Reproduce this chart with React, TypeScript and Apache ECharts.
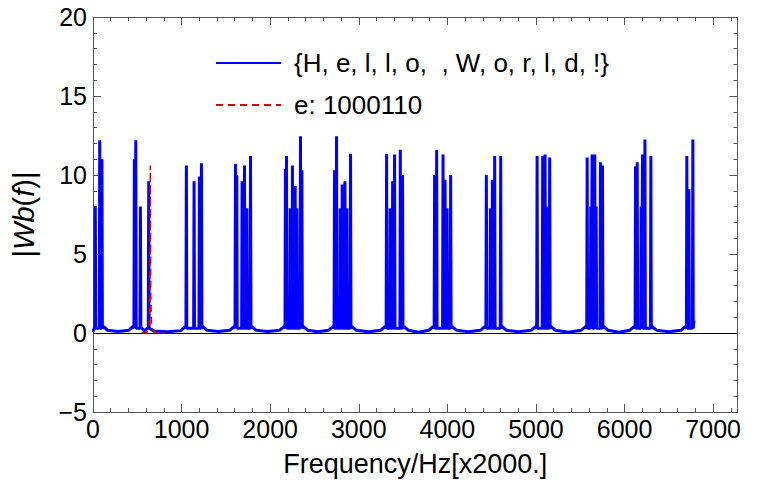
import { useEffect, useRef } from 'react';
import * as echarts from 'echarts';

// ---- data ----
const blueName = '{H, e, l, l, o,  , W, o, r, l, d, !}';
const redName = 'e: 1000110';

const xTicksMajor = [0, 1000, 2000, 3000, 4000, 5000, 6000, 7000];
const yTicks = [-5, 0, 5, 10, 15, 20];

// spectral peaks of the blue curve (frequency, |Wb(f)|)
const peakFreq = [
  26, 76, 101,
  467, 483, 535,
  629,
  1054, 1141, 1201, 1224,
  1608, 1623, 1683, 1710, 1737, 1778,
  2172, 2184, 2226, 2251, 2282, 2301, 2342, 2358,
  2726, 2749, 2791, 2813, 2844, 2866, 2907,
  3314, 3355, 3382, 3404, 3469, 3494,
  3856, 3879, 3951, 3974, 3997, 4037,
  4440, 4486, 4508, 4534, 4602,
  5013, 5076, 5103, 5126, 5155,
  5578, 5619, 5634, 5664, 5680, 5728, 5751,
  6124, 6143, 6188, 6203, 6230, 6297,
  6703, 6726, 6771,
];
const peakAmp = [
  8.0, 12.2, 11.0,
  11.0, 12.2, 8.0,
  9.6,
  10.6, 9.6, 9.9, 10.75,
  10.7, 10.0, 9.6, 10.6, 7.9, 11.2,
  10.4, 11.2, 7.9, 10.6, 9.3, 7.9, 12.45, 10.3,
  10.3, 12.45, 7.9, 9.4, 9.6, 7.9, 11.35,
  11.35, 7.9, 9.6, 11.3, 11.6, 10.0,
  10.0, 11.6, 11.3, 9.7, 7.9, 10.0,
  10.0, 7.9, 9.7, 11.2, 11.2,
  11.2, 11.2, 11.3, 8.0, 11.1,
  11.1, 8.0, 11.3, 11.3, 8.0, 10.8, 10.6,
  10.55, 10.8, 8.0, 11.3, 12.25, 11.2,
  11.2, 9.1, 12.25,
];

// floor of the blue curve between the peak clusters
const baseFreq = [
  0, 12,
  120, 162, 284, 406, 448,
  553, 583, 611,
  649, 690, 842, 994, 1036,
  1242, 1289, 1415, 1542, 1590,
  1796, 1842, 1974, 2105, 2154,
  2376, 2425, 2542, 2658, 2708,
  2925, 2973, 3110, 3247, 3295,
  3513, 3561, 3675, 3790, 3838,
  4055, 4104, 4238, 4373, 4422,
  4620, 4667, 4807, 4946, 4995,
  5173, 5220, 5367, 5509, 5560,
  5769, 5814, 5937, 6057, 6106,
  6315, 6362, 6500, 6635, 6685,
  6783,
];
const baseAmp = [
  0.05, 0.3,
  0.4, 0.18, 0.1, 0.18, 0.4,
  0.3, 0.12, 0.3,
  0.25, 0.12, 0.08, 0.15, 0.4,
  0.4, 0.17, 0.1, 0.17, 0.4,
  0.4, 0.17, 0.1, 0.17, 0.4,
  0.4, 0.17, 0.08, 0.17, 0.4,
  0.4, 0.17, 0.08, 0.17, 0.4,
  0.4, 0.17, 0.05, 0.17, 0.4,
  0.4, 0.17, 0.08, 0.17, 0.4,
  0.4, 0.17, 0.08, 0.17, 0.4,
  0.4, 0.17, 0.05, 0.17, 0.4,
  0.4, 0.17, 0.05, 0.17, 0.4,
  0.4, 0.17, 0.08, 0.17, 0.4,
  0.8,
];

// red dashed curve (single character "e")
const redFreq = [548, 609, 634, 642, 647, 652, 662, 700, 812];
const redAmp = [0, 0.05, 0.3, 2.5, 10.6, 2.5, 0.3, 0.05, 0];

const zeroLine = [0];

// ---- layout / style constants ----
const X_MAX = 7275;
const FONT = "'Liberation Sans', Arial, Helvetica, sans-serif";
const FRAME = '#555555';
const SPIKE_HALF = 5;
const SPIKE_FOOT = 0.3;

function buildBlue(): number[][] {
  const pts: number[][] = [];
  peakFreq.forEach((f, i) => {
    pts.push([f - SPIKE_HALF, SPIKE_FOOT], [f, peakAmp[i]], [f + SPIKE_HALF, SPIKE_FOOT]);
  });
  baseFreq.forEach((f, i) => pts.push([f, baseAmp[i]]));
  pts.sort((a, b) => a[0] - b[0]);
  return pts;
}

export default function App() {
  const ref = useRef<HTMLDivElement>(null);
  useEffect(() => {
    if (!ref.current) return;
    const chart = echarts.init(ref.current, undefined, { renderer: 'svg' });

    const xCommon = {
      type: 'value' as const,
      min: 0,
      max: X_MAX,
      splitLine: { show: false },
    };
    const yCommon = {
      type: 'value' as const,
      min: yTicks[0],
      max: yTicks[yTicks.length - 1],
      interval: 5,
      splitLine: { show: false },
    };

    chart.setOption({
      animation: false,
      grid: { left: 93, right: 21.5, top: 17, bottom: 79, containLabel: false },
      legend: {
        orient: 'vertical',
        left: 215,
        top: 50,
        padding: 0,
        itemWidth: 65,
        itemHeight: 14,
        itemGap: 16,
        selectedMode: false,
        itemStyle: { opacity: 0 },
        textStyle: { fontSize: 26, lineHeight: 26, color: '#000', fontFamily: FONT, padding: [0, 0, 0, 8] },
        data: [{ name: blueName }, { name: redName }],
      },
      xAxis: [
        {
          ...xCommon,
          position: 'bottom',
          interval: 200,
          axisLine: { show: true, onZero: false, lineStyle: { color: FRAME, width: 1 } },
          axisTick: { show: true, inside: true, length: 4, lineStyle: { color: FRAME } },
          axisLabel: {
            show: true,
            margin: 4,
            color: '#000',
            fontSize: 25,
            fontFamily: FONT,
            formatter: (v: number) => (xTicksMajor.includes(v) ? String(v) : ''),
          },
          name: 'Frequency/Hz[x2000.]',
          nameLocation: 'middle',
          nameGap: 38,
          nameTextStyle: { fontSize: 27, color: '#000', fontFamily: FONT },
        },
        {
          ...xCommon,
          position: 'bottom',
          interval: 1000,
          axisLine: { show: false, onZero: false },
          axisTick: { show: true, inside: true, length: 8, lineStyle: { color: FRAME } },
          axisLabel: { show: false },
        },
        {
          ...xCommon,
          position: 'top',
          interval: 200,
          axisLine: { show: true, onZero: false, lineStyle: { color: FRAME, width: 1 } },
          axisTick: { show: true, inside: true, length: 4, lineStyle: { color: FRAME } },
          axisLabel: { show: false },
        },
        {
          ...xCommon,
          position: 'top',
          interval: 1000,
          axisLine: { show: false, onZero: false },
          axisTick: { show: true, inside: true, length: 8, lineStyle: { color: FRAME } },
          axisLabel: { show: false },
        },
      ],
      yAxis: [
        {
          ...yCommon,
          position: 'left',
          axisLine: { show: true, onZero: false, lineStyle: { color: FRAME, width: 1 } },
          axisTick: { show: true, inside: true, length: 8, lineStyle: { color: FRAME } },
          minorTick: { show: true, splitNumber: 5, length: 4, lineStyle: { color: FRAME } },
          axisLabel: {
            show: true,
            margin: 6,
            color: '#000',
            fontSize: 25,
            fontFamily: FONT,
            formatter: (v: number) => (v < 0 ? '\u2212' + Math.abs(v) : String(v)),
          },
          name: '{n||}{i|Wb}{n|(}{i|f}{n|)|}',
          nameLocation: 'middle',
          nameRotate: 90,
          nameGap: 55,
          nameTextStyle: {
            fontSize: 29,
            color: '#000',
            fontFamily: FONT,
            rich: {
              n: { fontSize: 29, fontFamily: FONT, color: '#000' },
              i: { fontSize: 29, fontFamily: FONT, color: '#000', fontStyle: 'italic' },
            },
          },
        },
        {
          ...yCommon,
          position: 'right',
          axisLine: { show: true, onZero: false, lineStyle: { color: FRAME, width: 1 } },
          axisTick: { show: true, inside: true, length: 8, lineStyle: { color: FRAME } },
          minorTick: { show: true, splitNumber: 5, length: 4, lineStyle: { color: FRAME } },
          axisLabel: { show: false },
        },
      ],
      series: [
        {
          name: blueName,
          type: 'line',
          xAxisIndex: 0,
          yAxisIndex: 0,
          data: buildBlue(),
          symbol: 'none',
          showSymbol: false,
          lineStyle: { color: '#0000ff', width: 3 },
          itemStyle: { color: '#0000ff' },
          silent: true,
          z: 3,
          markLine: {
            silent: true,
            symbol: ['none', 'none'],
            label: { show: false },
            lineStyle: { color: '#000', width: 1, type: 'solid' },
            data: zeroLine.map((v) => ({ yAxis: v })),
            z: 2,
          },
        },
        {
          name: redName,
          type: 'line',
          xAxisIndex: 0,
          yAxisIndex: 0,
          data: redFreq.map((f, i) => [f, redAmp[i]]),
          symbol: 'none',
          showSymbol: false,
          lineStyle: { color: '#dd0000', width: 1.5, type: [7, 5] },
          itemStyle: { color: '#dd0000' },
          silent: true,
          z: 4,
        },
      ],
    });
    return () => chart.dispose();
  }, []);

  return (
    <div
      ref={ref}
      style={{ position: 'fixed', left: 0, top: 0, width: 759, height: 491, background: '#fff' }}
    />
  );
}
